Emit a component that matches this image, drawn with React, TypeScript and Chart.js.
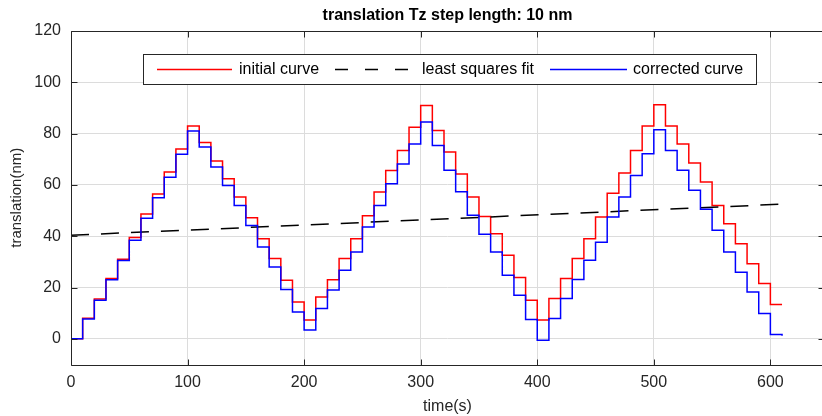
import React, { useEffect, useRef } from "react";
import { Chart, registerables } from "chart.js";

Chart.register(...registerables);

const titleText = "translation Tz step length: 10 nm";
const xTitle = "time(s)";
const yTitle = "translation(nm)";
const legendLabels = ["initial curve", "least squares fit", "corrected curve"];

const stepTimes = [
  0, 10, 20, 30, 40, 50, 60, 70, 80, 90, 100, 110, 120, 130, 140, 150, 160, 170, 180, 190,
  200, 210, 220, 230, 240, 250, 260, 270, 280, 290, 300, 310, 320, 330, 340, 350, 360, 370, 380, 390,
  400, 410, 420, 430, 440, 450, 460, 470, 480, 490, 500, 510, 520, 530, 540, 550, 560, 570, 580, 590,
  600, 610,
];

const initialCurve = [
  0, 8, 15.5, 23.5, 31, 39.5, 48.7, 56.5, 65, 74, 83, 76.5, 69.3, 62.4, 55.3, 47.2, 39, 31.3, 22.8, 14.4,
  7.3, 16.3, 23, 31.3, 39, 48, 57.2, 65.6, 73.4, 82.5, 91, 81.2, 72.8, 64.3, 55.3, 47.7, 41, 32.6, 23.9, 15,
  7.3, 15.7, 23.5, 31.3, 39, 47.5, 56.8, 64.6, 73.4, 83, 91.3, 83, 76, 68.5, 61.1, 52, 44.9, 37.1, 29.3, 21.6,
  13.4, 13.4,
];

const correctedCurve = [
  0, 7.7, 15, 23, 30.5, 38.4, 47, 55, 63, 72, 81, 74.8, 67, 59.8, 52, 44.2, 35.8, 28, 19.2, 10.5,
  3.4, 11.8, 19, 26.7, 33.9, 43.6, 52, 60.5, 68.2, 76, 84.5, 75.4, 65.7, 57.3, 48.2, 40.8, 33.9, 24.8, 17, 7.5,
  -0.5, 7.9, 15.7, 23.1, 30.6, 37.7, 47.5, 55.3, 63.7, 72.2, 81.5, 73.4, 65.7, 57.9, 50.5, 42.3, 33.9, 26, 18.3, 9.9,
  1.7, 1.2,
];

const fitTimes = [0, 610];
const fitValues = [40.4, 52.5];

const xTicks = [0, 100, 200, 300, 400, 500, 600];
const yTicks = [0, 20, 40, 60, 80, 100, 120];

const FONT = "'Liberation Sans', Arial, Helvetica, sans-serif";
const AXIS_COLOR = "#262626";
const GRID_COLOR = "#dcdcdc";
const RED = "#ff0000";
const BLUE = "#0000ff";

const framePlugin = {
  id: "matlabFrame",
  afterDraw(chart: any) {
    const { ctx, chartArea: a, scales } = chart;
    const x = scales.x;
    const y = scales.y;
    ctx.save();
    ctx.strokeStyle = AXIS_COLOR;
    ctx.lineWidth = 1;
    const L = Math.round(a.left) + 0.5;
    const R = Math.round(a.right) + 0.5;
    const T = Math.round(a.top) + 0.5;
    const B = Math.round(a.bottom) + 0.5;
    ctx.beginPath();
    ctx.rect(L, T, R - L, B - T);
    ctx.stroke();
    const tl = 6;
    ctx.beginPath();
    xTicks.forEach((v) => {
      const px = Math.round(x.getPixelForValue(v)) + 0.5;
      ctx.moveTo(px, B);
      ctx.lineTo(px, B - tl);
      ctx.moveTo(px, T);
      ctx.lineTo(px, T + tl);
    });
    yTicks.forEach((v) => {
      const py = Math.round(y.getPixelForValue(v)) + 0.5;
      ctx.moveTo(L, py);
      ctx.lineTo(L + tl, py);
      ctx.moveTo(R, py);
      ctx.lineTo(R - tl, py);
    });
    ctx.stroke();

    // legend box
    const lx0 = 143.5, ly0 = 54.5, lx1 = 756.5, ly1 = 84.5;
    const cy = 69.5;
    ctx.fillStyle = "#ffffff";
    ctx.fillRect(lx0, ly0, lx1 - lx0, ly1 - ly0);
    ctx.strokeStyle = AXIS_COLOR;
    ctx.lineWidth = 1;
    ctx.strokeRect(lx0, ly0, lx1 - lx0, ly1 - ly0);

    ctx.font = `16px ${FONT}`;
    ctx.textBaseline = "middle";
    ctx.textAlign = "left";
    ctx.fillStyle = "#000000";

    const ds = chart.data.datasets;
    ctx.lineWidth = 1.5;
    ctx.strokeStyle = ds[0].borderColor;
    ctx.setLineDash([]);
    ctx.beginPath();
    ctx.moveTo(157, cy);
    ctx.lineTo(232, cy);
    ctx.stroke();
    ctx.fillText(legendLabels[0], 239, cy);

    ctx.strokeStyle = ds[1].borderColor;
    ctx.setLineDash([13, 17]);
    ctx.beginPath();
    ctx.moveTo(335, cy);
    ctx.lineTo(408, cy);
    ctx.stroke();
    ctx.setLineDash([]);
    ctx.fillText(legendLabels[1], 422, cy);

    ctx.strokeStyle = ds[2].borderColor;
    ctx.beginPath();
    ctx.moveTo(550, cy);
    ctx.lineTo(627, cy);
    ctx.stroke();
    ctx.fillText(legendLabels[2], 633, cy);
    ctx.restore();
  },
};

export default function App() {
  const canvasRef = useRef<HTMLCanvasElement | null>(null);

  useEffect(() => {
    document.body.style.margin = "0";
    document.body.style.overflow = "hidden";
    const canvas = canvasRef.current;
    if (!canvas) return;

    const chart = new Chart(canvas, {
      type: "line",
      data: {
        datasets: [
          {
            label: legendLabels[0],
            data: initialCurve.map((v, i) => ({ x: stepTimes[i], y: v })),
            borderColor: RED,
            borderWidth: 1.5,
            pointRadius: 0,
            stepped: "before",
            fill: false,
            order: 3,
          },
          {
            label: legendLabels[1],
            data: fitValues.map((v, i) => ({ x: fitTimes[i], y: v })),
            borderColor: "#000000",
            borderWidth: 1.5,
            borderDash: [18, 12],
            pointRadius: 0,
            fill: false,
            order: 2,
          },
          {
            label: legendLabels[2],
            data: correctedCurve.map((v, i) => ({ x: stepTimes[i], y: v })),
            borderColor: BLUE,
            borderWidth: 1.5,
            pointRadius: 0,
            stepped: "before",
            fill: false,
            order: 1,
          },
        ],
      },
      options: {
        responsive: false,
        animation: false,
        devicePixelRatio: 1,
        layout: { padding: { left: 0, right: 16, top: 0, bottom: 0 } },
        plugins: {
          legend: { display: false },
          tooltip: { enabled: false },
          title: {
            display: true,
            text: titleText,
            fullSize: false,
            color: "#000000",
            font: { family: FONT, size: 16, weight: "bold", lineHeight: 1.2 },
            padding: { top: 6, bottom: 5.8 },
          },
        },
        scales: {
          x: {
            type: "linear",
            min: 0,
            max: 646,
            afterBuildTicks: (s: any) => {
              s.ticks = xTicks.map((v) => ({ value: v }));
            },
            afterFit: (s: any) => {
              s.height = 51.5;
            },
            ticks: {
              color: AXIS_COLOR,
              font: { family: FONT, size: 16 },
              padding: 8,
              maxRotation: 0,
            },
            grid: { color: GRID_COLOR, drawTicks: false, lineWidth: 1 },
            border: { display: false },
            title: {
              display: true,
              text: xTitle,
              color: AXIS_COLOR,
              font: { family: FONT, size: 16, lineHeight: 1.2 },
              padding: { top: 0, bottom: 0 },
            },
          },
          y: {
            type: "linear",
            min: -10,
            max: 120,
            afterBuildTicks: (s: any) => {
              s.ticks = yTicks.map((v) => ({ value: v }));
            },
            afterFit: (s: any) => {
              s.width = 71;
            },
            ticks: {
              color: AXIS_COLOR,
              font: { family: FONT, size: 16 },
              padding: 10,
            },
            grid: { color: GRID_COLOR, drawTicks: false, lineWidth: 1 },
            border: { display: false },
            title: {
              display: true,
              text: yTitle,
              color: AXIS_COLOR,
              font: { family: FONT, size: 15, lineHeight: 1.2 },
              padding: { top: 8, bottom: 0 },
            },
          },
        },
      },
      plugins: [framePlugin],
    } as any);

    return () => chart.destroy();
  }, []);

  return (
    <div style={{ width: 822, height: 416, overflow: "hidden", position: "relative" }}>
      <canvas
        ref={canvasRef}
        width={840}
        height={416}
        style={{ display: "block", width: 840, height: 416 }}
      />
    </div>
  );
}
